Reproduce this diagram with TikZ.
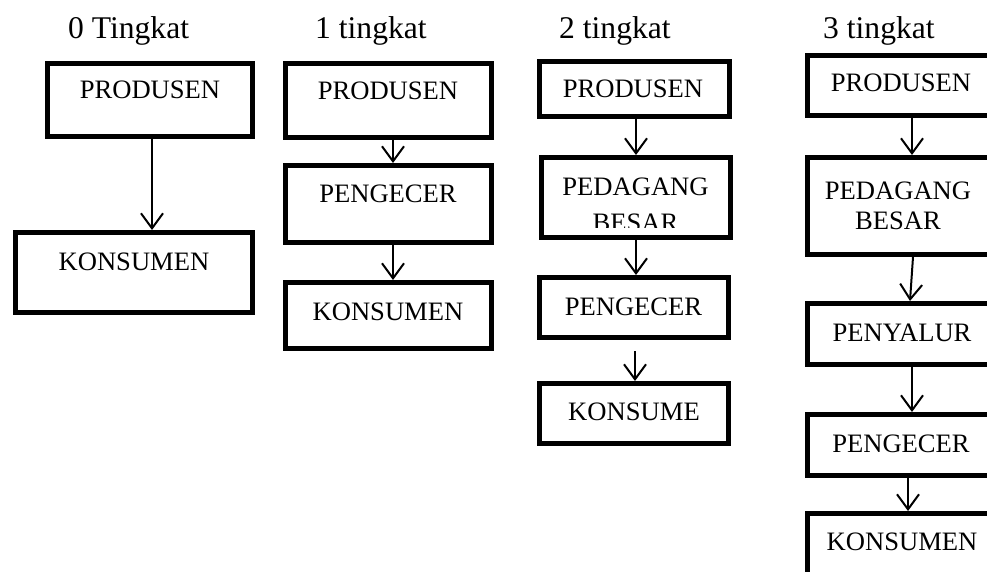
\documentclass[tikz,border=0pt]{standalone}
\usepackage{fontspec}
\setmainfont{Liberation Serif}
\usetikzlibrary{arrows.meta}
\tikzset{
  box/.style={draw, line width=5pt, rectangle, inner sep=0pt},
  lbl/.style={inner sep=0pt, anchor=base, font=\fontsize{26.6}{30}\selectfont},
  ttl/.style={inner sep=0pt, anchor=base west, font=\fontsize{31.6}{36}\selectfont},
  arr/.style={line width=2pt, -{Straight Barb[length=15pt,width=22pt,line width=2pt]}},
}
\begin{document}
\begin{tikzpicture}[x=1pt,y=-1pt]
\useasboundingbox (0,0) rectangle (987,572);
\clip (0,0) rectangle (987,572);

% column titles
\node[ttl] (t0) at (68,39)  {0 Tingkat};
\node[ttl] (t1) at (315,39) {1 tingkat};
\node[ttl] (t2) at (559,39) {2 tingkat};
\node[ttl] (t3) at (823,39) {3 tingkat};

% column 0
\node[box, minimum width=205pt, minimum height=73pt] (p0) at (150,100) {};
\node[box, minimum width=237pt, minimum height=80pt] (k0) at (134,272.5) {};
\node[lbl] (p0t) at (150,99)  {PRODUSEN};
\node[lbl] (k0t) at (134,270) {KONSUMEN};

% column 1
\node[box, minimum width=206pt, minimum height=74pt] (p1) at (388.5,100.5) {};
\node[box, minimum width=206pt, minimum height=77pt] (g1) at (388.5,204) {};
\node[box, minimum width=206pt, minimum height=66pt] (k1) at (388.5,315.5) {};
\node[lbl] (p1t) at (388,100) {PRODUSEN};
\node[lbl] (g1t) at (388,203) {PENGECER};
\node[lbl] (k1t) at (388,320) {KONSUMEN};

% column 2
\node[box, minimum width=190pt, minimum height=55pt] (p2) at (634.5,89) {};
\node[box, minimum width=189pt, minimum height=80pt] (b2) at (636,197.5) {};
\node[box, minimum width=189pt, minimum height=60pt] (g2) at (634,307.5) {};
\node[box, minimum width=189pt, minimum height=60pt] (k2) at (634,413.5) {};
\node[lbl] (p2t) at (633,98)    {PRODUSEN};
\node[lbl] (b2t) at (635.5,195) {PEDAGANG};
\begin{scope}
  \clip (520,200) rectangle (760,227.5);
  \node[lbl] (b2u) at (635.5,231) {BESAR};
\end{scope}
\node[lbl] (g2t) at (633.5,315) {PENGECER};
\node[lbl] (k2t) at (634,420)   {KONSUME};

% column 3
\node[box, minimum width=187pt, minimum height=60pt] (p3) at (901,85.5) {};
\node[box, minimum width=187pt, minimum height=97pt] (b3) at (901,206) {};
\node[box, minimum width=187pt, minimum height=61pt] (y3) at (901,334) {};
\node[box, minimum width=187pt, minimum height=61pt] (g3) at (901,445) {};
\node[box, minimum width=187pt, minimum height=85pt] (k3) at (901,556) {};
\node[lbl] (p3t) at (901,92)  {PRODUSEN};
\node[lbl] (b3t) at (898,200) {PEDAGANG};
\node[lbl] (b3u) at (898,229) {BESAR};
\node[lbl] (y3t) at (902,341) {PENYALUR};
\node[lbl] (g3t) at (901,452) {PENGECER};
\node[lbl] (k3t) at (902,550) {KONSUMEN};

% connectors
\draw[arr] ([xshift=2pt]p0.south) -- ([xshift=2pt]p0.south |- k0.north);

\draw[arr] ([xshift=4.5pt]p1.south) -- ([xshift=4.5pt]g1.north);
\draw[arr] ([xshift=4.5pt]g1.south) -- ([xshift=4.5pt]k1.north);

\draw[arr] ([xshift=1.5pt]p2.south) -- ([xshift=1.5pt]p2.south |- b2.north);
\draw[arr] ([yshift=4pt]b2.south) -- (b2.south |- g2.north);
\draw[arr] ([xshift=1pt,yshift=-11pt]g2.south) -- ([xshift=1pt]k2.north);

\draw[arr] ([xshift=11pt]p3.south) -- ([xshift=11pt]b3.north);
\draw[arr] ([xshift=12pt]b3.south) -- ([xshift=9pt]y3.north);
\draw[arr] ([xshift=11pt]y3.south) -- ([xshift=11pt]g3.north);
\draw[arr] ([xshift=7pt]g3.south) -- ([xshift=7pt]k3.north);
\end{tikzpicture}
\end{document}
